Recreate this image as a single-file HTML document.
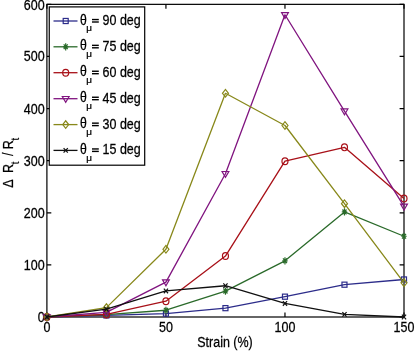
<!DOCTYPE html><html><head><meta charset="utf-8"><style>html,body{margin:0;padding:0;background:#fff}svg{display:block;will-change:transform}text{font-family:"Liberation Sans",sans-serif;fill:#000;stroke:#000;stroke-width:0.25px}</style></head><body>
<svg width="419" height="353" viewBox="0 0 419 353">
<rect width="419" height="353" fill="#fff"/>
<rect x="46.9" y="4.35" width="357.1" height="312.65" fill="none" stroke="#000" stroke-width="1.2"/>
<path d="M46.9 317.0 h4.4 M404.0 317.0 h-4.4" stroke="#000" stroke-width="1.2"/>
<text transform="translate(44.6,322.0) scale(0.905,1)" font-size="13.8" text-anchor="end">0</text>
<path d="M46.9 264.89166666666665 h4.4 M404.0 264.89166666666665 h-4.4" stroke="#000" stroke-width="1.2"/>
<text transform="translate(44.6,269.89166666666665) scale(0.905,1)" font-size="13.8" text-anchor="end">100</text>
<path d="M46.9 212.78333333333336 h4.4 M404.0 212.78333333333336 h-4.4" stroke="#000" stroke-width="1.2"/>
<text transform="translate(44.6,217.78333333333336) scale(0.905,1)" font-size="13.8" text-anchor="end">200</text>
<path d="M46.9 160.675 h4.4 M404.0 160.675 h-4.4" stroke="#000" stroke-width="1.2"/>
<text transform="translate(44.6,165.675) scale(0.905,1)" font-size="13.8" text-anchor="end">300</text>
<path d="M46.9 108.56666666666669 h4.4 M404.0 108.56666666666669 h-4.4" stroke="#000" stroke-width="1.2"/>
<text transform="translate(44.6,113.56666666666669) scale(0.905,1)" font-size="13.8" text-anchor="end">400</text>
<path d="M46.9 56.458333333333314 h4.4 M404.0 56.458333333333314 h-4.4" stroke="#000" stroke-width="1.2"/>
<text transform="translate(44.6,61.458333333333314) scale(0.905,1)" font-size="13.8" text-anchor="end">500</text>
<path d="M46.9 4.350000000000023 h4.4 M404.0 4.350000000000023 h-4.4" stroke="#000" stroke-width="1.2"/>
<text transform="translate(44.6,10.450000000000022) scale(0.905,1)" font-size="13.8" text-anchor="end">600</text>
<path d="M46.9 317.0 v-4.4 M46.9 4.35 v4.4" stroke="#000" stroke-width="1.2"/>
<text transform="translate(46.9,331.5) scale(0.905,1)" font-size="13.8" text-anchor="middle">0</text>
<path d="M165.93333333333334 317.0 v-4.4 M165.93333333333334 4.35 v4.4" stroke="#000" stroke-width="1.2"/>
<text transform="translate(165.93333333333334,331.5) scale(0.905,1)" font-size="13.8" text-anchor="middle">50</text>
<path d="M284.96666666666664 317.0 v-4.4 M284.96666666666664 4.35 v4.4" stroke="#000" stroke-width="1.2"/>
<text transform="translate(284.96666666666664,331.5) scale(0.905,1)" font-size="13.8" text-anchor="middle">100</text>
<path d="M404.0 317.0 v-4.4 M404.0 4.35 v4.4" stroke="#000" stroke-width="1.2"/>
<text transform="translate(404.0,331.5) scale(0.905,1)" font-size="13.8" text-anchor="middle">150</text>
<text transform="translate(225,346.7) scale(0.905,1)" font-size="13.8" text-anchor="middle">Strain (%)</text>
<text transform="translate(13.4,162.8) rotate(-90) scale(0.905,1)" font-size="13.8" text-anchor="middle">Δ<tspan dx="3.3"> R</tspan><tspan font-size="10.5" dy="5.2" dx="-0.5">t</tspan><tspan dy="-5.2" dx="2.4"> / R</tspan><tspan font-size="10.5" dy="5.2" dx="-0.4">t</tspan></text>
<polyline points="46.90,317.00 106.42,315.44 165.93,313.61 225.45,308.14 284.97,296.68 344.48,284.69 404.00,279.48" fill="none" stroke="#2c2c8a" stroke-width="1.3" stroke-linejoin="round"/>
<rect x="44.40" y="314.45" width="5.0" height="5.1" fill="none" stroke="#2c2c8a" stroke-width="1.2"/>
<rect x="103.92" y="312.89" width="5.0" height="5.1" fill="none" stroke="#2c2c8a" stroke-width="1.2"/>
<rect x="163.43" y="311.06" width="5.0" height="5.1" fill="none" stroke="#2c2c8a" stroke-width="1.2"/>
<rect x="222.95" y="305.59" width="5.0" height="5.1" fill="none" stroke="#2c2c8a" stroke-width="1.2"/>
<rect x="282.47" y="294.13" width="5.0" height="5.1" fill="none" stroke="#2c2c8a" stroke-width="1.2"/>
<rect x="341.98" y="282.14" width="5.0" height="5.1" fill="none" stroke="#2c2c8a" stroke-width="1.2"/>
<rect x="401.50" y="276.93" width="5.0" height="5.1" fill="none" stroke="#2c2c8a" stroke-width="1.2"/>
<polyline points="46.90,317.00 106.42,314.66 165.93,310.23 225.45,291.10 284.97,260.83 344.48,211.90 404.00,236.23" fill="none" stroke="#2a6a2a" stroke-width="1.3" stroke-linejoin="round"/>
<path d="M44.20 317.00 L49.60 317.00 M46.90 313.40 L46.90 320.60 M44.90 314.60 L48.90 319.40 M44.90 319.40 L48.90 314.60" fill="none" stroke="#2a6a2a" stroke-width="1.2"/>
<path d="M103.72 314.66 L109.12 314.66 M106.42 311.06 L106.42 318.26 M104.42 312.26 L108.42 317.06 M104.42 317.06 L108.42 312.26" fill="none" stroke="#2a6a2a" stroke-width="1.2"/>
<path d="M163.23 310.23 L168.63 310.23 M165.93 306.63 L165.93 313.83 M163.93 307.83 L167.93 312.63 M163.93 312.63 L167.93 307.83" fill="none" stroke="#2a6a2a" stroke-width="1.2"/>
<path d="M222.75 291.10 L228.15 291.10 M225.45 287.50 L225.45 294.70 M223.45 288.70 L227.45 293.50 M223.45 293.50 L227.45 288.70" fill="none" stroke="#2a6a2a" stroke-width="1.2"/>
<path d="M282.27 260.83 L287.67 260.83 M284.97 257.23 L284.97 264.43 M282.97 258.43 L286.97 263.23 M282.97 263.23 L286.97 258.43" fill="none" stroke="#2a6a2a" stroke-width="1.2"/>
<path d="M341.78 211.90 L347.18 211.90 M344.48 208.30 L344.48 215.50 M342.48 209.50 L346.48 214.30 M342.48 214.30 L346.48 209.50" fill="none" stroke="#2a6a2a" stroke-width="1.2"/>
<path d="M401.30 236.23 L406.70 236.23 M404.00 232.63 L404.00 239.83 M402.00 233.83 L406.00 238.63 M402.00 238.63 L406.00 233.83" fill="none" stroke="#2a6a2a" stroke-width="1.2"/>
<polyline points="46.90,317.00 106.42,314.39 165.93,301.21 225.45,256.03 284.97,161.20 344.48,147.34 404.00,198.45" fill="none" stroke="#a81018" stroke-width="1.3" stroke-linejoin="round"/>
<ellipse cx="46.90" cy="317.00" rx="3.0" ry="3.4" fill="none" stroke="#a81018" stroke-width="1.2"/>
<ellipse cx="106.42" cy="314.39" rx="3.0" ry="3.4" fill="none" stroke="#a81018" stroke-width="1.2"/>
<ellipse cx="165.93" cy="301.21" rx="3.0" ry="3.4" fill="none" stroke="#a81018" stroke-width="1.2"/>
<ellipse cx="225.45" cy="256.03" rx="3.0" ry="3.4" fill="none" stroke="#a81018" stroke-width="1.2"/>
<ellipse cx="284.97" cy="161.20" rx="3.0" ry="3.4" fill="none" stroke="#a81018" stroke-width="1.2"/>
<ellipse cx="344.48" cy="147.34" rx="3.0" ry="3.4" fill="none" stroke="#a81018" stroke-width="1.2"/>
<ellipse cx="404.00" cy="198.45" rx="3.0" ry="3.4" fill="none" stroke="#a81018" stroke-width="1.2"/>
<polyline points="46.90,317.00 106.42,312.31 165.93,282.09 225.45,173.70 284.97,14.77 344.48,111.17 404.00,206.37" fill="none" stroke="#80147f" stroke-width="1.3" stroke-linejoin="round"/>
<path d="M43.50 314.80 L50.30 314.80 L46.90 320.70 Z" fill="none" stroke="#80147f" stroke-width="1.2" stroke-linejoin="miter"/>
<path d="M103.02 310.11 L109.82 310.11 L106.42 316.01 Z" fill="none" stroke="#80147f" stroke-width="1.2" stroke-linejoin="miter"/>
<path d="M162.53 279.89 L169.33 279.89 L165.93 285.79 Z" fill="none" stroke="#80147f" stroke-width="1.2" stroke-linejoin="miter"/>
<path d="M222.05 171.50 L228.85 171.50 L225.45 177.40 Z" fill="none" stroke="#80147f" stroke-width="1.2" stroke-linejoin="miter"/>
<path d="M281.57 12.57 L288.37 12.57 L284.97 18.47 Z" fill="none" stroke="#80147f" stroke-width="1.2" stroke-linejoin="miter"/>
<path d="M341.08 108.97 L347.88 108.97 L344.48 114.87 Z" fill="none" stroke="#80147f" stroke-width="1.2" stroke-linejoin="miter"/>
<path d="M400.60 204.17 L407.40 204.17 L404.00 210.07 Z" fill="none" stroke="#80147f" stroke-width="1.2" stroke-linejoin="miter"/>
<polyline points="46.90,317.00 106.42,307.62 165.93,249.26 225.45,93.30 284.97,125.50 344.48,203.66 404.00,282.82" fill="none" stroke="#88881a" stroke-width="1.3" stroke-linejoin="round"/>
<path d="M43.90 317.00 L46.90 313.20 L49.90 317.00 L46.90 320.80 Z" fill="none" stroke="#88881a" stroke-width="1.2"/>
<path d="M103.42 307.62 L106.42 303.82 L109.42 307.62 L106.42 311.42 Z" fill="none" stroke="#88881a" stroke-width="1.2"/>
<path d="M162.93 249.26 L165.93 245.46 L168.93 249.26 L165.93 253.06 Z" fill="none" stroke="#88881a" stroke-width="1.2"/>
<path d="M222.45 93.30 L225.45 89.50 L228.45 93.30 L225.45 97.10 Z" fill="none" stroke="#88881a" stroke-width="1.2"/>
<path d="M281.97 125.50 L284.97 121.70 L287.97 125.50 L284.97 129.30 Z" fill="none" stroke="#88881a" stroke-width="1.2"/>
<path d="M341.48 203.66 L344.48 199.86 L347.48 203.66 L344.48 207.46 Z" fill="none" stroke="#88881a" stroke-width="1.2"/>
<path d="M401.00 282.82 L404.00 279.02 L407.00 282.82 L404.00 286.62 Z" fill="none" stroke="#88881a" stroke-width="1.2"/>
<polyline points="46.90,317.00 106.42,309.18 165.93,290.95 225.45,285.74 284.97,303.45 344.48,314.39 404.00,317.00" fill="none" stroke="#101010" stroke-width="1.3" stroke-linejoin="round"/>
<path d="M44.80 314.70 L49.00 319.30 M44.80 319.30 L49.00 314.70" fill="none" stroke="#101010" stroke-width="1.2"/>
<path d="M104.32 306.88 L108.52 311.48 M104.32 311.48 L108.52 306.88" fill="none" stroke="#101010" stroke-width="1.2"/>
<path d="M163.83 288.65 L168.03 293.25 M163.83 293.25 L168.03 288.65" fill="none" stroke="#101010" stroke-width="1.2"/>
<path d="M223.35 283.44 L227.55 288.04 M223.35 288.04 L227.55 283.44" fill="none" stroke="#101010" stroke-width="1.2"/>
<path d="M282.87 301.15 L287.07 305.75 M282.87 305.75 L287.07 301.15" fill="none" stroke="#101010" stroke-width="1.2"/>
<path d="M342.38 312.09 L346.58 316.69 M342.38 316.69 L346.58 312.09" fill="none" stroke="#101010" stroke-width="1.2"/>
<path d="M401.90 314.70 L406.10 319.30 M401.90 319.30 L406.10 314.70" fill="none" stroke="#101010" stroke-width="1.2"/>
<rect x="49.25" y="6.9" width="95.44999999999999" height="158.29999999999998" fill="#fff" stroke="#000" stroke-width="1.2"/>
<path d="M53.5 21.0 H77.5" stroke="#2c2c8a" stroke-width="1.3"/>
<rect x="63.20" y="18.45" width="5.0" height="5.1" fill="none" stroke="#2c2c8a" stroke-width="1.2"/>
<text transform="translate(80.0,24.55) scale(0.875,1)" font-size="14.0">θ</text>
<text transform="translate(86.3,31.1) scale(1.1,1)" font-size="9" stroke-width="0">μ</text>
<rect x="92.0" y="18.85" width="6.8" height="1.4" fill="#000"/><rect x="92.0" y="21.30" width="6.8" height="1.4" fill="#000"/>
<text transform="translate(102.55,24.9) scale(0.905,1)" font-size="13.8" text-anchor="start">90 deg</text>
<path d="M53.5 46.8 H77.5" stroke="#2a6a2a" stroke-width="1.3"/>
<path d="M63.00 46.80 L68.40 46.80 M65.70 43.20 L65.70 50.40 M63.70 44.40 L67.70 49.20 M63.70 49.20 L67.70 44.40" fill="none" stroke="#2a6a2a" stroke-width="1.2"/>
<text transform="translate(80.0,50.349999999999994) scale(0.875,1)" font-size="14.0">θ</text>
<text transform="translate(86.3,56.9) scale(1.1,1)" font-size="9" stroke-width="0">μ</text>
<rect x="92.0" y="44.65" width="6.8" height="1.4" fill="#000"/><rect x="92.0" y="47.10" width="6.8" height="1.4" fill="#000"/>
<text transform="translate(102.55,50.699999999999996) scale(0.905,1)" font-size="13.8" text-anchor="start">75 deg</text>
<path d="M53.5 72.7 H77.5" stroke="#a81018" stroke-width="1.3"/>
<ellipse cx="65.70" cy="72.70" rx="3.0" ry="3.4" fill="none" stroke="#a81018" stroke-width="1.2"/>
<text transform="translate(80.0,76.25) scale(0.875,1)" font-size="14.0">θ</text>
<text transform="translate(86.3,82.8) scale(1.1,1)" font-size="9" stroke-width="0">μ</text>
<rect x="92.0" y="70.55" width="6.8" height="1.4" fill="#000"/><rect x="92.0" y="73.00" width="6.8" height="1.4" fill="#000"/>
<text transform="translate(102.55,76.60000000000001) scale(0.905,1)" font-size="13.8" text-anchor="start">60 deg</text>
<path d="M53.5 98.7 H77.5" stroke="#80147f" stroke-width="1.3"/>
<path d="M62.30 96.50 L69.10 96.50 L65.70 102.40 Z" fill="none" stroke="#80147f" stroke-width="1.2" stroke-linejoin="miter"/>
<text transform="translate(80.0,102.25) scale(0.875,1)" font-size="14.0">θ</text>
<text transform="translate(86.3,108.8) scale(1.1,1)" font-size="9" stroke-width="0">μ</text>
<rect x="92.0" y="96.55" width="6.8" height="1.4" fill="#000"/><rect x="92.0" y="99.00" width="6.8" height="1.4" fill="#000"/>
<text transform="translate(102.55,102.60000000000001) scale(0.905,1)" font-size="13.8" text-anchor="start">45 deg</text>
<path d="M53.5 124.6 H77.5" stroke="#88881a" stroke-width="1.3"/>
<path d="M62.70 124.60 L65.70 120.80 L68.70 124.60 L65.70 128.40 Z" fill="none" stroke="#88881a" stroke-width="1.2"/>
<text transform="translate(80.0,128.15) scale(0.875,1)" font-size="14.0">θ</text>
<text transform="translate(86.3,134.7) scale(1.1,1)" font-size="9" stroke-width="0">μ</text>
<rect x="92.0" y="122.45" width="6.8" height="1.4" fill="#000"/><rect x="92.0" y="124.90" width="6.8" height="1.4" fill="#000"/>
<text transform="translate(102.55,128.5) scale(0.905,1)" font-size="13.8" text-anchor="start">30 deg</text>
<path d="M53.5 150.4 H77.5" stroke="#101010" stroke-width="1.3"/>
<path d="M63.60 148.10 L67.80 152.70 M63.60 152.70 L67.80 148.10" fill="none" stroke="#101010" stroke-width="1.2"/>
<text transform="translate(80.0,153.95000000000002) scale(0.875,1)" font-size="14.0">θ</text>
<text transform="translate(86.3,160.5) scale(1.1,1)" font-size="9" stroke-width="0">μ</text>
<rect x="92.0" y="148.25" width="6.8" height="1.4" fill="#000"/><rect x="92.0" y="150.70" width="6.8" height="1.4" fill="#000"/>
<text transform="translate(102.55,154.3) scale(0.905,1)" font-size="13.8" text-anchor="start">15 deg</text>
</svg></body></html>
